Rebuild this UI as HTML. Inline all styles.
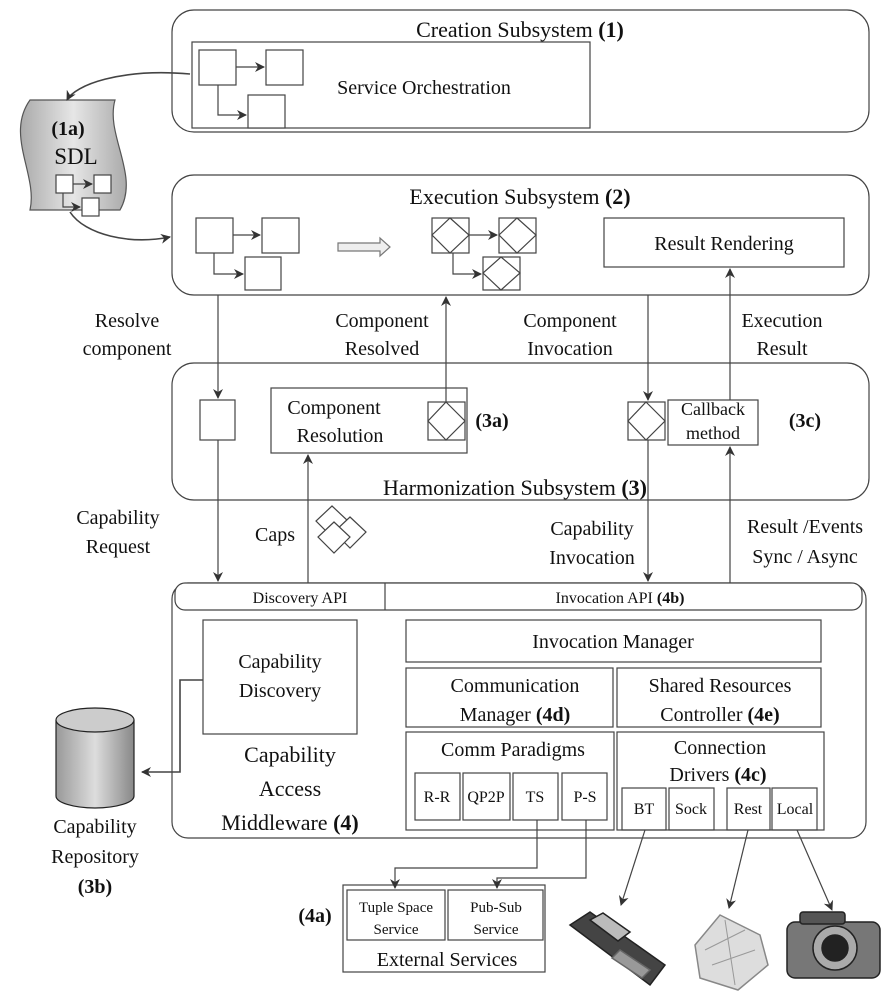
<!DOCTYPE html>
<html><head><meta charset="utf-8"><style>
html,body{margin:0;padding:0;background:#fff}
svg{display:block}
text{font-family:"Liberation Serif",serif;fill:#111}
.b{font-weight:bold}
</style></head><body>
<svg width="887" height="1000" viewBox="0 0 887 1000" xmlns="http://www.w3.org/2000/svg">
<defs>
<marker id="a" markerWidth="10" markerHeight="10" refX="9" refY="5" orient="auto" markerUnits="userSpaceOnUse"><path d="M0,0 L10,5 L0,10 L3,5 Z" fill="#333"/></marker>
<linearGradient id="cyl" x1="0" x2="1"><stop offset="0" stop-color="#999"/><stop offset="0.5" stop-color="#ddd"/><stop offset="1" stop-color="#888"/></linearGradient>
<linearGradient id="doc" x1="0" x2="1"><stop offset="0" stop-color="#aaa"/><stop offset="0.5" stop-color="#e6e6e6"/><stop offset="1" stop-color="#aaa"/></linearGradient>
</defs>
<g fill="none" stroke="#444" stroke-width="1.2">
<!-- Creation -->
<rect x="172" y="10" width="697" height="122" rx="22"/>
<rect x="192" y="42" width="398" height="86" fill="#fff"/>
<rect x="199" y="50" width="37" height="35" fill="#fff"/>
<rect x="266" y="50" width="37" height="35" fill="#fff"/>
<rect x="248" y="95" width="37" height="33" fill="#fff"/>
<path d="M236,67 H264" marker-end="url(#a)"/>
<path d="M218,85 V115 H246" marker-end="url(#a)"/>
<!-- SDL doc -->
<path d="M30,100 H115 C105,135 140,175 120,210 H30 C38,175 5,135 30,100 Z" fill="url(#doc)" stroke="#555"/>
<path d="M190,74 C120,68 75,85 67,100" stroke-width="1.6" marker-end="url(#a)"/>
<rect x="56" y="175" width="17" height="18" fill="#fff"/><rect x="94" y="175" width="17" height="18" fill="#fff"/><rect x="82" y="198" width="17" height="18" fill="#fff"/>
<path d="M73,184 H92" marker-end="url(#a)"/><path d="M63,193 V207 H80" marker-end="url(#a)"/>
<path d="M70,212 C85,235 130,245 170,237" stroke-width="1.6" marker-end="url(#a)"/>
<!-- Execution -->
<rect x="172" y="175" width="697" height="120" rx="22"/>
<rect x="196" y="218" width="37" height="35" fill="#fff"/>
<rect x="262" y="218" width="37" height="35" fill="#fff"/>
<rect x="245" y="257" width="36" height="33" fill="#fff"/>
<path d="M233,235 H260" marker-end="url(#a)"/><path d="M214,253 V274 H243" marker-end="url(#a)"/>
<path d="M338,243 H380 V238 L390,247 L380,256 V251 H338 Z" fill="#eee" stroke="#777"/>
<rect x="432" y="218" width="37" height="35" fill="#fff"/><path d="M450,218 L469,235 L450,253 L432,235 Z"/>
<rect x="499" y="218" width="37" height="35" fill="#fff"/><path d="M517,218 L536,235 L517,253 L499,235 Z"/>
<rect x="483" y="257" width="37" height="33" fill="#fff"/><path d="M501,257 L520,273 L501,290 L483,273 Z"/>
<path d="M469,235 H497" marker-end="url(#a)"/><path d="M453,253 V274 H481" marker-end="url(#a)"/>
<rect x="604" y="218" width="240" height="49" fill="#fff"/>
<!-- Harmonization -->
<rect x="172" y="363" width="697" height="137" rx="22"/>
<rect x="200" y="400" width="35" height="40" fill="#fff"/>
<rect x="271" y="388" width="196" height="65" fill="#fff"/>
<rect x="428" y="402" width="37" height="38" fill="#fff"/><path d="M446,402 L465,421 L446,440 L428,421 Z"/>
<rect x="628" y="402" width="37" height="38" fill="#fff"/><path d="M646,402 L665,421 L646,440 L628,421 Z"/>
<rect x="668" y="400" width="90" height="45" fill="#fff"/>
<!-- connectors -->
<path d="M218,295 V398" marker-end="url(#a)"/>
<path d="M446,402 V297" marker-end="url(#a)"/>
<path d="M648,295 V400" marker-end="url(#a)"/>
<path d="M730,400 V269" marker-end="url(#a)"/>
<path d="M218,440 V581" marker-end="url(#a)"/>
<path d="M308,583 V455" marker-end="url(#a)"/>
<path d="M648,440 V581" marker-end="url(#a)"/>
<path d="M730,583 V447" marker-end="url(#a)"/>
<!-- caps diamonds -->
<path d="M332,506 L348,521 L332,537 L316,521 Z" fill="#fff"/>
<path d="M350,517 L366,532 L350,548 L334,532 Z" fill="#fff"/>
<path d="M334,522 L350,537 L334,553 L318,537 Z" fill="#fff"/>
<!-- Middleware -->
<rect x="172" y="583" width="694" height="255" rx="16"/>
<rect x="175" y="583" width="687" height="27" rx="10" fill="#fff"/>
<path d="M385,583 V610"/>
<rect x="203" y="620" width="154" height="114" fill="#fff"/>
<rect x="406" y="620" width="415" height="42"/>
<rect x="406" y="668" width="207" height="59"/>
<rect x="617" y="668" width="204" height="59"/>
<rect x="406" y="732" width="208" height="98"/>
<rect x="617" y="732" width="207" height="98"/>
<rect x="415" y="773" width="45" height="47"/><rect x="463" y="773" width="47" height="47"/>
<rect x="513" y="773" width="45" height="47"/><rect x="562" y="773" width="45" height="47"/>
<rect x="622" y="788" width="44" height="42"/><rect x="669" y="788" width="45" height="42"/>
<rect x="727" y="788" width="43" height="42"/><rect x="772" y="788" width="45" height="42"/>
<path d="M203,680 H180 V772 H142" stroke-width="1.6" marker-end="url(#a)"/>
<!-- cylinder -->
<path d="M56,720 V796 A39,12 0 0 0 134,796 V720" fill="url(#cyl)" stroke="#222"/>
<ellipse cx="95" cy="720" rx="39" ry="12" fill="#ccc" stroke="#222"/>
<!-- external -->
<rect x="343" y="885" width="202" height="87"/>
<rect x="347" y="890" width="98" height="50"/><rect x="448" y="890" width="95" height="50"/>
<path d="M537,820 V868 H395 V888" marker-end="url(#a)"/>
<path d="M586,820 V878 H497 V888" marker-end="url(#a)"/>
<path d="M645,830 L621,905" marker-end="url(#a)"/>
<path d="M748,830 L729,908" marker-end="url(#a)"/>
<path d="M797,830 L832,910" marker-end="url(#a)"/>
</g>
<!-- devices -->
<g stroke="#222" stroke-width="1.5">
<path d="M570,925 L590,912 L665,965 L650,985 Z" fill="#444"/>
<path d="M590,920 L603,913 L630,932 L618,941 Z" fill="#bbb"/>
<path d="M620,950 L650,970 L642,978 L612,958 Z" fill="#999" stroke="#666"/>
<path d="M695,945 L720,915 L760,935 L768,965 L738,990 L700,978 Z" fill="#ddd" stroke="#888"/>
<path d="M705,950 L745,930 M712,965 L755,950 M725,920 L735,985" stroke="#999" stroke-width="1"/>
<rect x="787" y="922" width="93" height="56" rx="8" fill="#777"/>
<rect x="800" y="912" width="45" height="12" rx="3" fill="#555"/>
<circle cx="835" cy="948" r="22" fill="#aaa"/>
<circle cx="835" cy="948" r="13" fill="#222"/>
</g>
<!-- text -->
<g font-size="22" text-anchor="middle">
<text x="520" y="37">Creation Subsystem <tspan class="b">(1)</tspan></text>
<text x="520" y="204">Execution Subsystem <tspan class="b">(2)</tspan></text>
<text x="515" y="495">Harmonization Subsystem <tspan class="b">(3)</tspan></text>
<text x="290" y="762">Capability</text>
<text x="290" y="796">Access</text>
<text x="290" y="830">Middleware <tspan class="b">(4)</tspan></text>
</g>
<g font-size="20" text-anchor="middle">
<text x="424" y="94">Service Orchestration</text>
<text x="68" y="135" class="b">(1a)</text>
<text x="76" y="164" font-size="23">SDL</text>
<text x="724" y="250">Result Rendering</text>
<text x="127" y="327">Resolve</text><text x="127" y="355">component</text>
<text x="382" y="327">Component</text><text x="382" y="355">Resolved</text>
<text x="570" y="327">Component</text><text x="570" y="355">Invocation</text>
<text x="782" y="327">Execution</text><text x="782" y="355">Result</text>
<text x="334" y="414">Component</text><text x="340" y="442">Resolution</text>
<text x="492" y="427" class="b">(3a)</text>
<text x="713" y="415" font-size="18">Callback</text><text x="713" y="439" font-size="18">method</text>
<text x="805" y="427" class="b">(3c)</text>
<text x="118" y="524">Capability</text><text x="118" y="553">Request</text>
<text x="275" y="541">Caps</text>
<text x="592" y="535">Capability</text><text x="592" y="564">Invocation</text>
<text x="805" y="533">Result /Events</text><text x="805" y="563">Sync / Async</text>
<text x="613" y="648">Invocation Manager</text>
<text x="280" y="668">Capability</text><text x="280" y="697">Discovery</text>
<text x="515" y="692">Communication</text><text x="515" y="721">Manager <tspan class="b">(4d)</tspan></text>
<text x="720" y="692">Shared Resources</text><text x="720" y="721">Controller <tspan class="b">(4e)</tspan></text>
<text x="513" y="756">Comm Paradigms</text>
<text x="720" y="754">Connection</text><text x="718" y="781">Drivers <tspan class="b">(4c)</tspan></text>
<text x="95" y="833">Capability</text><text x="95" y="863">Repository</text><text x="95" y="893" class="b">(3b)</text>
<text x="315" y="922" class="b">(4a)</text>
<text x="447" y="966">External Services</text>
</g>
<g font-size="16" text-anchor="middle">
<text x="300" y="603">Discovery API</text>
<text x="620" y="603">Invocation API <tspan class="b">(4b)</tspan></text>
<text x="437" y="802">R-R</text><text x="486" y="802">QP2P</text><text x="535" y="802">TS</text><text x="585" y="802">P-S</text>
<text x="644" y="814">BT</text><text x="691" y="814">Sock</text><text x="748" y="814">Rest</text><text x="795" y="814">Local</text>
<text x="396" y="912" font-size="15">Tuple Space</text><text x="396" y="934" font-size="15">Service</text>
<text x="496" y="912" font-size="15">Pub-Sub</text><text x="496" y="934" font-size="15">Service</text>
</g>
</svg>
</body></html>
